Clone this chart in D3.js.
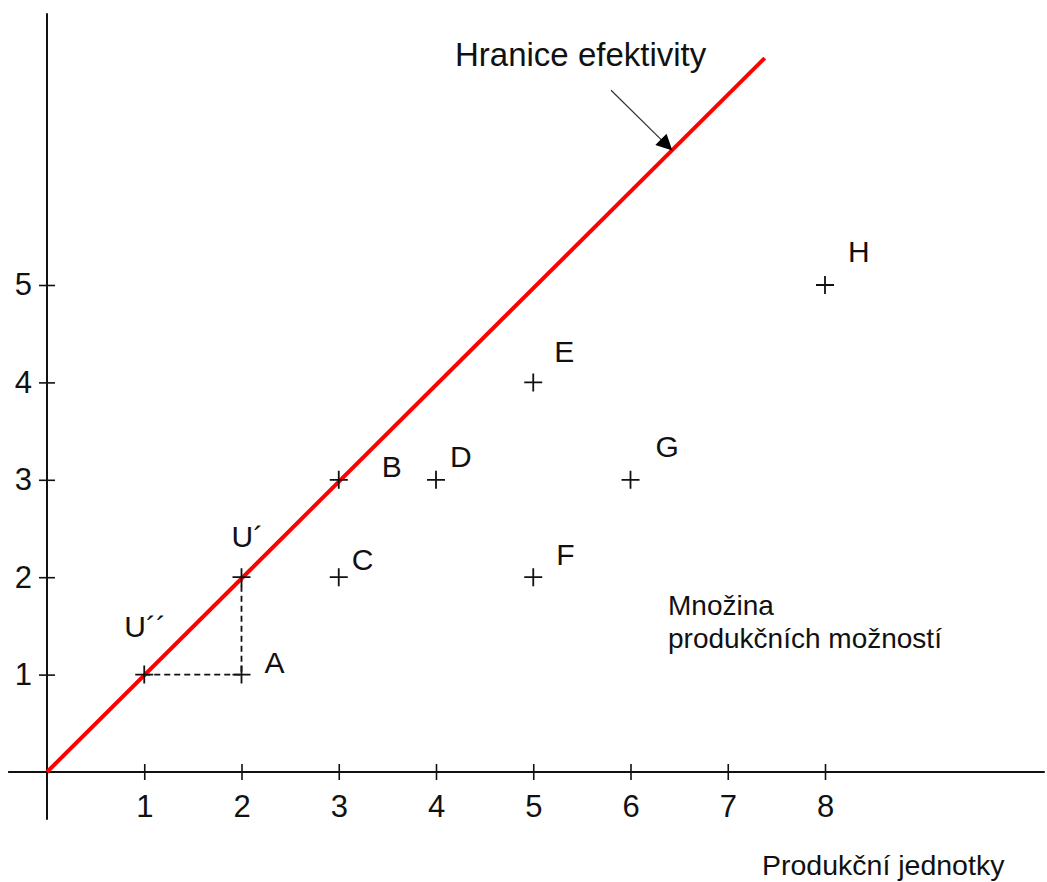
<!DOCTYPE html>
<html>
<head>
<meta charset="utf-8">
<script src="https://cdn.jsdelivr.net/npm/d3@7"></script>
<style>
  html, body { margin: 0; padding: 0; background: #fff; }
  text { font-family: "Liberation Sans", Arial, sans-serif; fill: #111; }
</style>
</head>
<body>
<script>
// data
var xTicks = [1, 2, 3, 4, 5, 6, 7, 8];
var yTicks = [1, 2, 3, 4, 5];
var pointLabels = ["U\u00b4\u00b4", "A", "U\u00b4", "C", "B", "D", "E", "F", "G", "H"];
var pointX = [1, 2, 2, 3, 3, 4, 5, 5, 6, 8];
var pointY = [1, 1, 2, 2, 3, 3, 4, 2, 3, 5];
var frontier = [[0, 0], [7.38, 7.33]];
var dashed = [[1, 1], [2, 1], [2, 2]];
var arrowFrom = [5.8, 7.0];
var arrowTo = [6.43, 6.38];

var width = 1047, height = 882;

var x = d3.scaleLinear().domain([0, 8]).range([47, 825]);
var y = d3.scaleLinear().domain([0, 5]).range([772, 285]);

var svg = d3.select("body").
  append("svg").
  attr("width", width).
  attr("height", height);

// label offsets (px) from the cross
var offs = {
  "U\u00b4\u00b4": [-20, -38], "A": [23, -2], "U\u00b4": [-10, -30],
  "C": [13, -7], "B": [43, -3], "D": [14, -13], "E": [21, -20],
  "F": [23, -12], "G": [25, -23], "H": [23, -23]
};

// axes
var xAxis = d3.axisBottom(x).tickValues(xTicks).tickFormat(d3.format("d")).tickSize(8).tickPadding(15);
var gx = svg.append("g").attr("transform", "translate(0," + y(0) + ")").call(xAxis);
gx.select(".domain").remove();
gx.selectAll(".tick line").attr("y1", -8).attr("stroke", "#111").attr("stroke-width", 1.6);
gx.selectAll(".tick text").attr("font-size", 31).attr("dy", "0.71em");
gx.append("line").
  attr("x1", x(-0.4)).attr("x2", x(10.26)).
  attr("stroke", "#111").attr("stroke-width", 2);

var yAxis = d3.axisLeft(y).tickValues(yTicks).tickFormat(d3.format("d")).tickSize(8).tickPadding(7);
var gy = svg.append("g").attr("transform", "translate(" + x(0) + ",0)").call(yAxis);
gy.select(".domain").remove();
gy.selectAll(".tick line").attr("x1", 8).attr("stroke", "#111").attr("stroke-width", 1.6);
gy.selectAll(".tick text").attr("font-size", 31);
gy.append("line").
  attr("y1", y(7.79)).attr("y2", y(-0.49)).
  attr("stroke", "#111").attr("stroke-width", 2);
svg.selectAll(".tick text").style("font-family", "Liberation Sans, Arial, sans-serif").attr("fill", "#111");

var line = d3.line().x(function(d) { return x(d[0]); }).y(function(d) { return y(d[1]); });

// dashed helper lines
svg.append("path").
  attr("d", line(dashed)).
  attr("fill", "none").
  attr("stroke", "#111").
  attr("stroke-width", 1.8).
  attr("stroke-dasharray", "6,4");

// efficiency frontier
svg.append("path").
  attr("d", line(frontier)).
  attr("fill", "none").
  attr("stroke", "#f00").
  attr("stroke-width", 4);

// arrow
svg.append("defs").append("marker").
  attr("id", "head").
  attr("viewBox", "0 0 10 10").
  attr("refX", 10).attr("refY", 5).
  attr("markerWidth", 24).attr("markerHeight", 16).
  attr("markerUnits", "userSpaceOnUse").
  attr("orient", "auto").
  append("path").attr("d", "M0,0L10,5L0,10Z").attr("fill", "#000");

svg.append("line").
  attr("x1", x(arrowFrom[0])).attr("y1", y(arrowFrom[1])).
  attr("x2", x(arrowTo[0])).attr("y2", y(arrowTo[1])).
  attr("stroke", "#333").attr("stroke-width", 1.2).
  attr("marker-end", "url(#head)");

// points
var pts = pointLabels.map(function(l, i) { return { label: l, x: pointX[i], y: pointY[i] }; });
var g = svg.selectAll("g.pt").data(pts).enter().append("g").
  attr("class", "pt").
  attr("transform", function(d) { return "translate(" + x(d.x) + "," + y(d.y) + ")"; });

g.append("path").
  attr("d", "M-9,0H9M0,-9V9").
  attr("stroke", "#111").
  attr("stroke-width", 1.8);

g.append("text").
  attr("x", function(d) { return offs[d.label][0]; }).
  attr("y", function(d) { return offs[d.label][1]; }).
  attr("font-size", 30).
  text(function(d) { return d.label; });

// texts
svg.append("text").attr("x", 455).attr("y", 66).attr("font-size", 33).text("Hranice efektivity");
svg.append("text").attr("x", 668).attr("y", 615).attr("font-size", 28).text("Množina");
svg.append("text").attr("x", 668).attr("y", 648).attr("font-size", 28).text("produkčních možností");
svg.append("text").attr("x", 762).attr("y", 875).attr("font-size", 28.5).text("Produkční jednotky");
</script>
</body>
</html>
